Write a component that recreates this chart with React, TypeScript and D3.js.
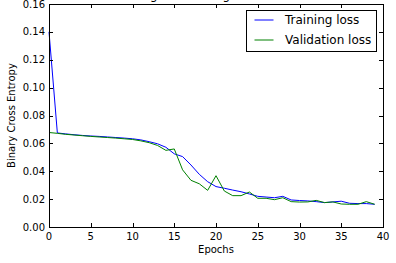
import React, { useEffect, useRef } from 'react';
import * as d3 from 'd3';

// Loss values per epoch
const epochs = d3.range(0, 40);
const trainingLoss = [
  0.140, 0.0675, 0.0668, 0.0662, 0.0657, 0.0653, 0.0650, 0.0646, 0.0642, 0.0638,
  0.0633, 0.0625, 0.0612, 0.0597, 0.0572, 0.0525, 0.0505, 0.0445, 0.0378, 0.0325,
  0.0290, 0.0278, 0.0265, 0.0253, 0.0237, 0.0220, 0.0215, 0.0210, 0.0220, 0.0194,
  0.0190, 0.0187, 0.0182, 0.0175, 0.0180, 0.0185, 0.0170, 0.0168, 0.0168, 0.0163,
];
const validationLoss = [
  0.0678, 0.0672, 0.0665, 0.0660, 0.0655, 0.0650, 0.0646, 0.0642, 0.0638, 0.0633,
  0.0628, 0.0618, 0.0605, 0.0585, 0.0550, 0.0560, 0.0410, 0.0335, 0.0310, 0.0263,
  0.0368, 0.0258, 0.0225, 0.0225, 0.0251, 0.0206, 0.0206, 0.0196, 0.0210, 0.0182,
  0.0179, 0.0180, 0.0191, 0.0175, 0.0180, 0.0165, 0.0163, 0.0163, 0.0182, 0.0163,
];
const xTicks = [0, 5, 10, 15, 20, 25, 30, 35, 40];
const yTicks = [0, 0.02, 0.04, 0.06, 0.08, 0.1, 0.12, 0.14, 0.16];
const seriesNames = ['Training loss', 'Validation loss'];
const seriesColors = ['#0000ff', '#008000'];

const App = () => {
  const ref = useRef<SVGSVGElement | null>(null);
  const width = 396;
  const height = 263;
  const margin = { top: 4, right: 13, bottom: 36, left: 49 };

  useEffect(() => {
    if (!ref.current) return;
    const svg = d3.select(ref.current);
    svg.selectAll('*').remove();

    const font = 'DejaVu Sans, sans-serif';
    const x0 = margin.left;
    const x1 = width - margin.right;
    const y0 = height - margin.bottom;
    const y1 = margin.top;

    const x = d3.scaleLinear().domain([0, 40]).range([x0, x1]);
    const y = d3.scaleLinear().domain([0, 0.16]).range([y0, y1]);

    // title, mostly clipped above the figure
    svg.append('text')
      .attr('x', (x0 + x1) / 2)
      .attr('y', -1)
      .attr('text-anchor', 'middle')
      .style('font-family', font)
      .style('font-size', '12px')
      .text('Training and Testing Loss over time');

    const plot = svg.append('g');

    const line = d3.line<number>()
      .x((d, i) => x(epochs[i]))
      .y(d => y(d));

    [trainingLoss, validationLoss].forEach((values, i) => {
      plot.append('path')
        .datum(values)
        .attr('d', line)
        .attr('fill', 'none')
        .attr('stroke', seriesColors[i])
        .attr('stroke-width', 1);
    });

    // inward ticks on all four sides
    const tickLen = 4;
    const ticks = svg.append('g').attr('stroke', '#000').attr('stroke-width', 1);
    xTicks.forEach(t => {
      const px = Math.round(x(t)) + 0.5;
      ticks.append('line').attr('x1', px).attr('x2', px).attr('y1', y0).attr('y2', y0 - tickLen);
      ticks.append('line').attr('x1', px).attr('x2', px).attr('y1', y1).attr('y2', y1 + tickLen);
    });
    yTicks.forEach(t => {
      const py = Math.round(y(t)) + 0.5;
      ticks.append('line').attr('x1', x0).attr('x2', x0 + tickLen).attr('y1', py).attr('y2', py);
      ticks.append('line').attr('x1', x1).attr('x2', x1 - tickLen).attr('y1', py).attr('y2', py);
    });

    svg.append('rect')
      .attr('x', x0 + 0.5)
      .attr('y', y1 + 0.5)
      .attr('width', x1 - x0)
      .attr('height', y0 - y1)
      .attr('fill', 'none')
      .attr('stroke', '#000')
      .attr('stroke-width', 1);

    const labels = svg.append('g')
      .style('font-family', font)
      .style('font-size', '10px')
      .attr('fill', '#000');

    xTicks.forEach(t => {
      labels.append('text')
        .attr('x', x(t))
        .attr('y', y0 + 13)
        .attr('text-anchor', 'middle')
        .text(String(t));
    });
    yTicks.forEach(t => {
      labels.append('text')
        .attr('x', x0 - 4)
        .attr('y', y(t))
        .attr('dy', '0.35em')
        .attr('text-anchor', 'end')
        .text(t.toFixed(2));
    });

    labels.append('text')
      .attr('x', (x0 + x1) / 2)
      .attr('y', y0 + 26)
      .attr('text-anchor', 'middle')
      .text('Epochs');

    labels.append('text')
      .attr('transform', `translate(15, ${(y0 + y1) / 2}) rotate(-90)`)
      .attr('text-anchor', 'middle')
      .text('Binary Cross Entropy');

    // legend
    const legend = svg.append('g').attr('transform', 'translate(246.5, 10.5)');
    legend.append('rect')
      .attr('width', 130)
      .attr('height', 41)
      .attr('fill', '#fff')
      .attr('stroke', '#000')
      .attr('stroke-width', 1);

    seriesNames.forEach((name, i) => {
      const ly = 9.5 + i * 20;
      legend.append('line')
        .attr('x1', 8)
        .attr('x2', 27)
        .attr('y1', ly)
        .attr('y2', ly)
        .attr('stroke', seriesColors[i])
        .attr('stroke-width', 1);
      legend.append('text')
        .attr('x', 38.5)
        .attr('y', ly)
        .attr('dy', '0.35em')
        .style('font-family', font)
        .style('font-size', '12px')
        .text(name);
    });
  }, []);

  return (
    <svg
      ref={ref}
      width={width}
      height={height}
      style={{ position: 'fixed', top: 0, left: 0, background: '#fff' }}
    />
  );
};

export default App;
